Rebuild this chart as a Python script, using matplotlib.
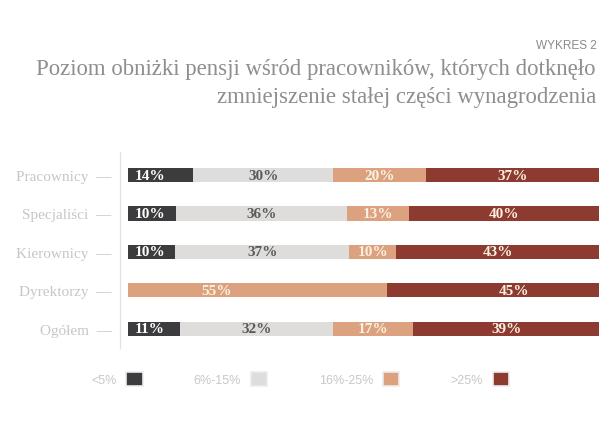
import matplotlib
matplotlib.use("Agg")
import matplotlib.pyplot as plt
from matplotlib.patches import Patch
import numpy as np

categories = ["Pracownicy", "Specjaliści", "Kierownicy", "Dyrektorzy", "Ogółem"]
series_names = ["<5%", "6%-15%", "16%-25%", ">25%"]
lt5 = [14, 10, 10, 0, 11]
p6_15 = [30, 36, 37, 0, 32]
p16_25 = [20, 13, 10, 55, 17]
gt25 = [37, 40, 43, 45, 39]

title_small = "WYKRES 2"
title_lines = ["Poziom obniżki pensji wśród pracowników, których dotknęło",
               "zmniejszenie stałej części wynagrodzenia"]

colors = ["#3c3b3d", "#dedddb", "#dca27f", "#8d3a30"]
label_colors = ["#ffffff", "#5a5a5a", "#fbf1e2", "#fbf1e2"]

W, H = 602, 435
fig = plt.figure(figsize=(W / 100, H / 100), dpi=100)
fig.patch.set_facecolor("white")

def fx(px):
    return px / W

def fy(py):
    return 1 - py / H

ax_left, ax_right, ax_top, ax_bot = 120, 599, 153, 349
ax = fig.add_axes([fx(ax_left), fy(ax_bot), fx(ax_right - ax_left), (ax_bot - ax_top) / H])

series = [lt5, p6_15, p16_25, gt25]
data = np.array(series, dtype=float)  # shape (4, n)
totals = data.sum(axis=0)
frac = data / totals * 100
y = np.arange(len(categories))
bar_h = 0.37

px_per_unit = (599 - 128) / 100.0
ax.set_xlim(-(128 - ax_left) / px_per_unit, 100)
ax.set_ylim(4.5, -0.6)

serif = ["Liberation Serif", "DejaVu Serif"]
left = np.zeros(len(categories))
for si in range(len(series)):
    ax.barh(y, frac[si], left=left, height=bar_h, color=colors[si], linewidth=0)
    for i in range(len(categories)):
        v = data[si, i]
        if v <= 0:
            continue
        w = frac[si, i]
        two_part = data[0, i] == 0
        if si == 0:
            ax.text(left[i] + 1.5, y[i], f"{int(v)}%", ha="left", va="center",
                    fontsize=11, fontweight="bold", family=serif, color=label_colors[si])
        else:
            pos = 0.5
            if two_part:
                pos = 0.34 if si == 2 else 0.6
            ax.text(left[i] + w * pos, y[i], f"{int(v)}%", ha="center", va="center",
                    fontsize=11, fontweight="bold", family=serif, color=label_colors[si])
    left += frac[si]

ax.set_yticks(y)
ax.set_yticklabels([c + "  —" for c in categories], family=serif, fontsize=11, color="#c6c6c6")
ax.tick_params(axis="y", length=0, pad=6)
ax.set_xticks([])
for s in ["top", "right", "bottom"]:
    ax.spines[s].set_visible(False)
ax.spines["left"].set_color("#e2e2e2")
ax.spines["left"].set_linewidth(0.9)
ax.set_facecolor("none")

# titles
fig.text(fx(597), fy(46), title_small, ha="right", va="center",
         family=["Liberation Sans Narrow", "Liberation Sans", "DejaVu Sans"],
         fontsize=8.5, color="#8a8a8a")
fig.text(fx(596), fy(70), title_lines[0], ha="right", va="center",
         family=serif, fontsize=16.4, color="#8e8e8e")
fig.text(fx(596), fy(97), title_lines[1], ha="right", va="center",
         family=serif, fontsize=16.4, color="#8e8e8e")

# legend
handles = [Patch(facecolor=colors[i], edgecolor="#ececec", linewidth=1.2) for i in range(4)]
fig.legend(handles, series_names, loc="center", bbox_to_anchor=(fx(300), fy(380)),
           ncol=4, frameon=False, markerfirst=False,
           prop={"family": ["Liberation Sans", "DejaVu Sans"], "size": 9},
           labelcolor="#c8c8c8", handlelength=1.3, handleheight=1.3,
           handletextpad=0.8, columnspacing=4.1)

fig.savefig("out.png", dpi=100, facecolor="white")
